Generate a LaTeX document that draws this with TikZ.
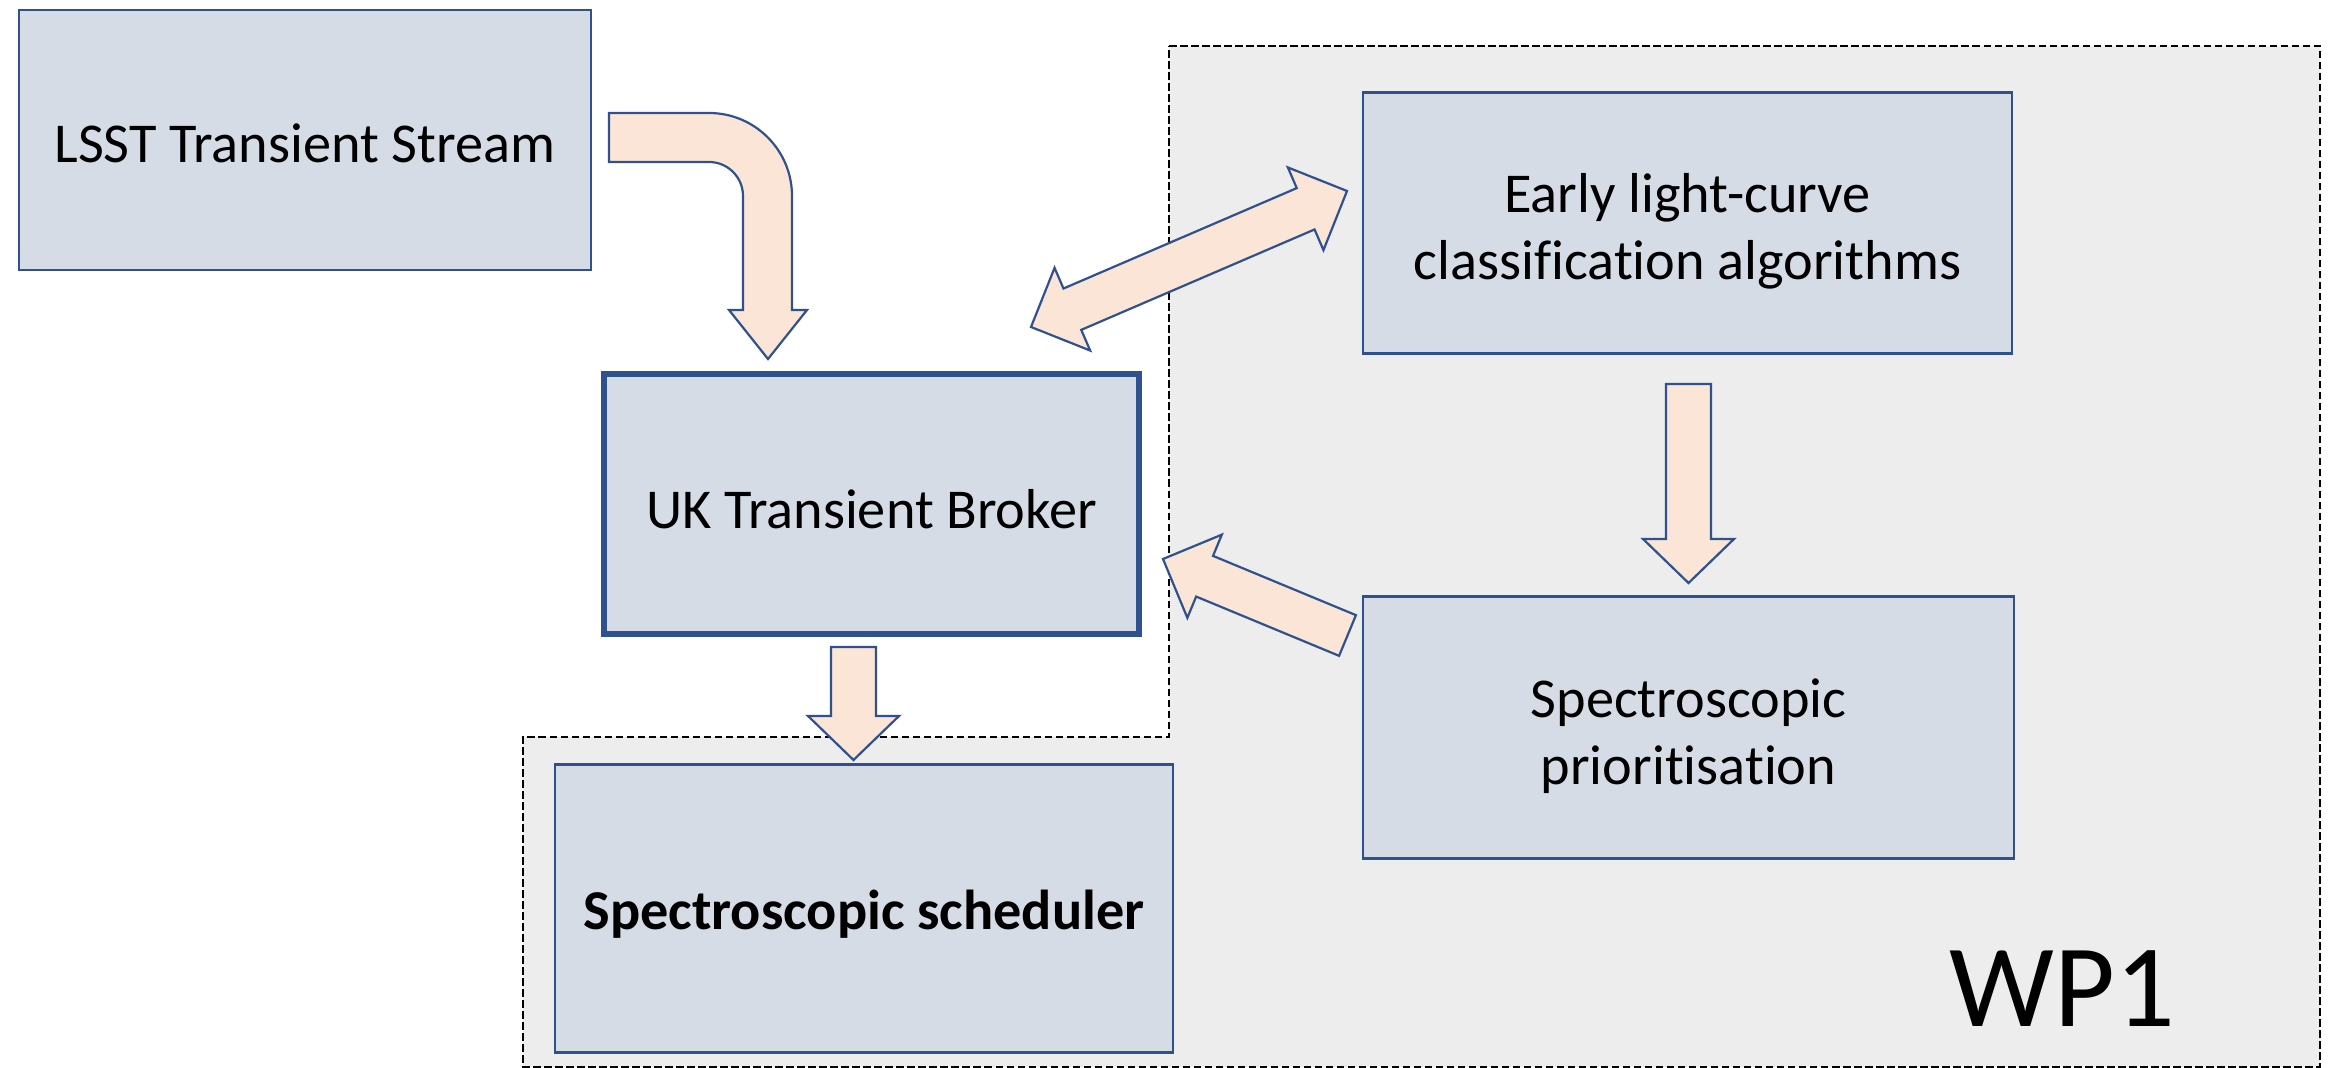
\documentclass[tikz,border=0pt]{standalone}
\usepackage{fontspec}
\setmainfont{Carlito}[Ligatures=NoCommon]
\usetikzlibrary{calc}
\definecolor{boxfill}{HTML}{D6DCE5}
\definecolor{boxline}{HTML}{2F528F}
\definecolor{arrfill}{HTML}{FBE5D6}
\definecolor{wpfill}{HTML}{EDEDED}
\tikzset{
  box/.style={draw=boxline, fill=boxfill, line width=0.022cm, align=center, inner sep=0pt,
    font=\fontsize{16}{19}\selectfont},
  blk/.style={draw=boxline, fill=arrfill, line width=0.022cm, line join=miter},
  wpregion/.style={draw=black, fill=wpfill, line width=0.028cm, dash pattern=on 0.075cm off 0.035cm},
}
% single block arrow: tail, tip, shaft half width, head half width, head length
\newcommand\blockarr[5]{%
  \coordinate (ba-h) at ($(#2)!#5!(#1)$);
  \draw[blk] ($(#1)!#3!90:(#2)$) -- ($(ba-h)!#3!90:(#2)$) -- ($(ba-h)!#4!90:(#2)$) -- (#2)
    -- ($(ba-h)!#4!-90:(#2)$) -- ($(ba-h)!#3!-90:(#2)$) -- ($(#1)!#3!-90:(#2)$) -- cycle;
}
% double block arrow: tip A, tip B, shaft half width, head half width, head length
\newcommand\dblarr[5]{%
  \coordinate (da-b) at ($(#2)!#5!(#1)$);
  \coordinate (da-a) at ($(#1)!#5!(#2)$);
  \draw[blk] (#1) -- ($(da-a)!#4!90:(#2)$) -- ($(da-a)!#3!90:(#2)$) -- ($(da-b)!#3!90:(#2)$)
    -- ($(da-b)!#4!90:(#2)$) -- (#2) -- ($(da-b)!#4!-90:(#2)$) -- ($(da-b)!#3!-90:(#2)$)
    -- ($(da-a)!#3!-90:(#2)$) -- ($(da-a)!#4!-90:(#2)$) -- cycle;
}
\begin{document}
\begin{tikzpicture}[x=0.01cm,y=-0.01cm]
\useasboundingbox (0,0) rectangle (2334,1068);
% WP1 region
\draw[wpregion] (1169,46) -- (2320,46) -- (2320,1067) -- (523,1067) -- (523,737) -- (1169,737) -- cycle;
\node[font=\fontsize{33.5}{40}\selectfont, anchor=base] (wp) at (2062,1026) {WP1};
% boxes
\node[box, text height=13pt, minimum width=5.72cm, minimum height=2.60cm] (lsst) at (305,140) {LSST Transient Stream};
\node[box, text height=13.8pt, line width=0.06cm, minimum width=5.35cm, minimum height=2.60cm] (broker) at (871.5,504) {UK Transient Broker};
\node[box, minimum width=6.48cm, minimum height=2.61cm] (early) at (1687.5,223) {\rule{0pt}{16pt}Early light-curve\\classification algorithms};
\node[box, minimum width=6.50cm, minimum height=2.62cm] (prior) at (1688.5,727.5) {\rule{0pt}{16pt}Spectroscopic\\prioritisation};
\node[box, text height=14.3pt, minimum width=6.17cm, minimum height=2.88cm, font=\fontsize{16}{19}\selectfont\bfseries] (sched) at (864,908.5) {Spectroscopic scheduler};
% curved arrow LSST -> broker
\draw[blk] (609,113) -- (709,113) .. controls (754.8,113) and (792,150.2) .. (792,196)
  -- (792,310) -- (807,310) -- (768,359) -- (729,310) -- (743,310) -- (743,196)
  .. controls (743,177.2) and (727.8,162) .. (709,162) -- (609,162) -- cycle;
% early -> prior
\coordinate (e-tail) at (1688.5,384);
\coordinate (p-tip) at (1688.5,583);
\blockarr{e-tail}{p-tip}{0.225cm}{0.455cm}{0.44cm}
% broker -> scheduler
\coordinate (b-tail) at (853.5,647);
\coordinate (s-tip) at (853.5,760);
\blockarr{b-tail}{s-tip}{0.225cm}{0.455cm}{0.44cm}
% prior -> broker
\coordinate (p-tail) at (1347.5,635.5);
\coordinate (b-tip) at (1163,559);
\blockarr{p-tail}{b-tip}{0.22cm}{0.45cm}{0.45cm}
% broker <-> early
\coordinate (b-end) at (1031,327);
\coordinate (e-end) at (1347,191);
\dblarr{b-end}{e-end}{0.225cm}{0.45cm}{0.45cm}
\end{tikzpicture}
\end{document}
